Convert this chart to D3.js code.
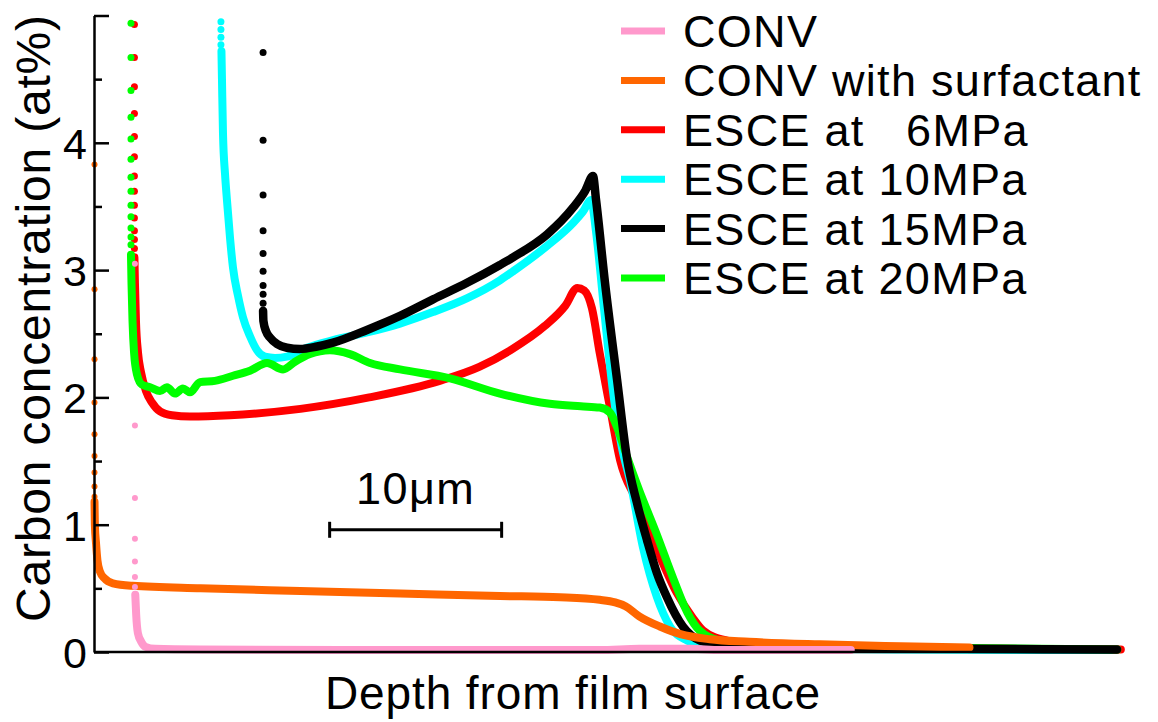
<!DOCTYPE html>
<html>
<head>
<meta charset="utf-8">
<script src="https://cdn.jsdelivr.net/npm/d3@7"></script>
<style>
  html, body { margin: 0; padding: 0; background: #fff; }
  svg { display: block; font-family: "Liberation Sans", Arial, sans-serif; }
  text { white-space: pre; }
</style>
</head>
<body>
<svg id="chart" width="1158" height="722"></svg>
<script>
// Carbon depth profiles: depth in micrometres, concentration in at%.
const seriesNames = ["CONV", "CONV with surfactant", "ESCE at   6MPa", "ESCE at 10MPa", "ESCE at 15MPa", "ESCE at 20MPa"];
const seriesColors = ["#ff99cc", "#ff6600", "#ff0000", "#00ffff", "#000000", "#00ff00"];

// Continuous part of each profile: [depth, concentration]
const convLine = [
  [2.40, 0.45], [2.45, 0.30], [2.55, 0.15], [2.75, 0.08], [3.0, 0.04], [3.55, 0.025],
  [6.2, 0.02], [17.8, 0.015], [29.4, 0.015], [31.7, 0.025], [34.7, 0.025], [36.4, 0.015], [44.0, 0.015]
];
const surfLine = [
  [0.03, 1.18], [0.05, 1.0], [0.12, 0.85], [0.2, 0.72], [0.35, 0.63], [0.6, 0.58], [1.1, 0.54],
  [2.25, 0.52], [6.2, 0.50], [12.0, 0.48], [17.8, 0.46], [23.6, 0.44], [27.1, 0.43], [29.4, 0.41],
  [30.3, 0.39], [30.9, 0.36], [31.7, 0.28], [32.9, 0.20], [34.1, 0.14], [35.8, 0.10], [38.1, 0.08],
  [42.2, 0.06], [46.9, 0.045], [50.9, 0.035]
];
const esce6Line = [
  [2.35, 3.1], [2.38, 2.9], [2.44, 2.6], [2.56, 2.35], [2.73, 2.2], [3.02, 2.05], [3.37, 1.96],
  [3.84, 1.89], [4.53, 1.86], [5.58, 1.85], [7.9, 1.86], [12.0, 1.91], [16.0, 2.0], [20.1, 2.13],
  [22.4, 2.24], [24.2, 2.37], [26.2, 2.56], [27.4, 2.72], [28.1, 2.86], [28.5, 2.84], [28.95, 2.7],
  [29.4, 2.35], [30.0, 1.92], [30.6, 1.50], [31.5, 1.2], [32.5, 0.88], [33.9, 0.46], [34.8, 0.27],
  [35.4, 0.17], [36.8, 0.09], [38.7, 0.06], [44.0, 0.04], [52.7, 0.025], [59.7, 0.02]
];
const esce10Line = [
  [7.41, 4.72], [7.44, 4.5], [7.5, 4.07], [7.62, 3.75], [7.73, 3.55], [7.91, 3.25], [8.08, 3.02],
  [8.37, 2.8], [8.66, 2.63], [9.07, 2.48], [9.48, 2.37], [9.94, 2.32], [10.52, 2.31], [11.22, 2.32],
  [12.38, 2.39], [13.9, 2.45], [15.87, 2.51], [17.79, 2.58], [19.7, 2.67], [21.7, 2.78], [23.6, 2.92],
  [24.36, 2.99], [26.34, 3.19], [27.85, 3.37], [28.43, 3.46], [28.9, 3.55], [29.19, 3.3], [29.65, 2.7],
  [30.17, 2.05], [30.7, 1.6], [31.16, 1.35], [31.92, 0.82], [32.73, 0.43], [33.49, 0.2], [34.48, 0.09],
  [35.4, 0.05], [38.1, 0.03], [46.9, 0.02], [59.1, 0.015]
];
const esce15Line = [
  [9.83, 2.68], [9.85, 2.6], [10.0, 2.52], [10.23, 2.47], [10.64, 2.42], [11.22, 2.39], [11.98, 2.38],
  [12.97, 2.40], [13.9, 2.43], [15.87, 2.53], [17.79, 2.64], [19.71, 2.77], [21.69, 2.9], [23.6, 3.04],
  [24.36, 3.10], [26.34, 3.28], [27.85, 3.49], [28.55, 3.62], [29.01, 3.74], [29.19, 3.55], [29.71, 2.9],
  [30.41, 2.14], [30.99, 1.52], [31.57, 1.17], [32.15, 0.88], [32.73, 0.62], [33.31, 0.43], [34.24, 0.2],
  [35.23, 0.09], [36.8, 0.05], [43.95, 0.03], [59.48, 0.02]
];
const esce20Line = [
  [2.15, 3.12], [2.18, 2.9], [2.24, 2.6], [2.33, 2.35], [2.5, 2.18], [2.79, 2.1], [3.26, 2.08],
  [3.84, 2.05], [4.24, 2.08], [4.71, 2.03], [5.17, 2.07], [5.58, 2.04], [6.16, 2.12], [7.03, 2.13],
  [8.08, 2.17], [9.07, 2.21], [10.06, 2.27], [10.99, 2.22], [11.69, 2.28], [12.56, 2.34], [13.72, 2.37],
  [14.88, 2.34], [16.05, 2.27], [17.79, 2.22], [20.7, 2.15], [23.6, 2.03], [26.5, 1.95], [28.3, 1.93],
  [29.4, 1.92], [30.0, 1.88], [30.4, 1.77], [31.0, 1.53], [31.7, 1.27], [32.7, 0.93], [33.7, 0.57],
  [34.5, 0.31], [35.2, 0.17], [36.4, 0.09], [38.7, 0.06], [46.9, 0.035], [59.5, 0.02]
];

// Sparse first readings near the surface: [depth, concentration]
const convDots = [[2.38, 3.05], [2.38, 1.78], [2.38, 1.21], [2.38, 0.89], [2.38, 0.71], [2.38, 0.59], [2.38, 0.51]];
const surfDots = [[0.03, 3.83], [0.03, 2.85], [0.03, 2.30], [0.03, 1.96], [0.03, 1.71], [0.03, 1.54], [0.03, 1.41], [0.03, 1.30], [0.03, 1.22]];
const esce6Dots = [[2.35, 4.93], [2.35, 4.67], [2.35, 4.44], [2.35, 4.23], [2.35, 4.05], [2.35, 3.89], [2.35, 3.74], [2.35, 3.62], [2.35, 3.51], [2.35, 3.41], [2.35, 3.31], [2.35, 3.24], [2.35, 3.17]];
const esce10Dots = [[7.38, 4.95], [7.38, 4.89], [7.38, 4.83], [7.38, 4.77]];
const esce15Dots = [[9.83, 4.71], [9.83, 4.02], [9.83, 3.59], [9.83, 3.31], [9.83, 3.13], [9.83, 2.99], [9.83, 2.88], [9.83, 2.81], [9.83, 2.74]];
const esce20Dots = [[2.15, 4.94], [2.15, 4.67], [2.15, 4.41], [2.15, 4.20], [2.15, 4.03], [2.15, 3.87], [2.15, 3.73], [2.15, 3.62], [2.15, 3.51], [2.15, 3.42], [2.15, 3.33], [2.15, 3.26], [2.15, 3.20]];

const yMajorTicks = [0, 1, 2, 3, 4, 5];
const yTickLabels = ["0", "1", "2", "3", "4", ""];
const yMinorTicks = [0.5, 1.5, 2.5, 3.5, 4.5];

// Scale bar: 10 µm starting at this depth, drawn at this concentration level
const scaleBarStart = 13.7;
const scaleBarLength = 10;
const scaleBarLevel = 0.96;
const scaleBarLabel = "10\u03bcm";

const xLabel = "Depth from film surface";
const yLabel = "Carbon concentration (at%)";

const lines = [convLine, surfLine, esce6Line, esce10Line, esce15Line, esce20Line];
const dots = [convDots, surfDots, esce6Dots, esce10Dots, esce15Dots, esce20Dots];

const svg = d3.select("#chart");
const x = d3.scaleLinear().domain([0, 60]).range([94, 1126]);
const y = d3.scaleLinear().domain([0, 5]).range([652, 15.5]);

const line = d3.line().x(d => x(d[0])).y(d => y(d[1])).curve(d3.curveMonotoneX);

// Layering: red, cyan, green, black, then orange and pink on top
const drawOrder = [2, 3, 5, 4, 1, 0];
const dataLayer = svg.append("g");
drawOrder.forEach(i => {
  const g = dataLayer.append("g");
  g.append("path")
    .datum(lines[i])
    .attr("d", line)
    .attr("fill", "none")
    .attr("stroke", seriesColors[i])
    .attr("stroke-width", i === 4 ? 8.5 : 8)
    .attr("stroke-linejoin", "round")
    .attr("stroke-linecap", "round");
  g.selectAll("circle")
    .data(dots[i])
    .join("circle")
    .attr("cx", d => x(d[0]))
    .attr("cy", d => y(d[1]))
    .attr("r", i <= 1 ? 3 : 3.5)
    .attr("fill", seriesColors[i]);
});

// Axes
const axisColor = "#000";
const yMajor = d3.axisLeft(y)
  .tickValues(yMajorTicks)
  .tickFormat((d, i) => yTickLabels[i])
  .tickSizeInner(-15)
  .tickSizeOuter(0)
  .tickPadding(7);
const yMinor = d3.axisLeft(y)
  .tickValues(yMinorTicks)
  .tickFormat("")
  .tickSizeInner(-8)
  .tickSizeOuter(0);

const gx = svg.append("g")
  .attr("transform", `translate(0,${y(0)})`)
  .call(d3.axisBottom(x).tickValues([]).tickSizeOuter(0));
gx.select(".domain").attr("stroke", axisColor).attr("stroke-width", 2.5)
  .attr("d", `M${x(0)},0H${x(59.5)}`);

const gyMinor = svg.append("g").attr("transform", `translate(${x(0)},0)`).call(yMinor);
gyMinor.select(".domain").remove();
gyMinor.selectAll("line").attr("stroke", axisColor).attr("stroke-width", 2.5);

const gy = svg.append("g").attr("transform", `translate(${x(0)},0)`).call(yMajor);
gy.select(".domain").attr("stroke", axisColor).attr("stroke-width", 2.5);
gy.selectAll("line").attr("stroke", axisColor).attr("stroke-width", 2.5);
gy.selectAll("text")
  .attr("font-size", 43)
  .attr("font-family", "Liberation Sans, Arial, sans-serif")
  .attr("fill", "#000")
  .attr("dy", "0.36em");

// Axis titles
svg.append("text")
  .attr("x", 573)
  .attr("y", 709)
  .attr("text-anchor", "middle")
  .attr("font-size", 46)
  .attr("letter-spacing", 0.9)
  .text(xLabel);

svg.append("text")
  .attr("transform", "translate(50,318) rotate(-90)")
  .attr("text-anchor", "middle")
  .attr("font-size", 48)
  .attr("letter-spacing", 0.8)
  .text(yLabel);

// Scale bar
const sb = svg.append("g");
const sbY = y(scaleBarLevel);
const sbX0 = x(scaleBarStart), sbX1 = x(scaleBarStart + scaleBarLength);
sb.append("line").attr("x1", sbX0).attr("x2", sbX1).attr("y1", sbY).attr("y2", sbY)
  .attr("stroke", "#000").attr("stroke-width", 3);
[sbX0, sbX1].forEach(px => {
  sb.append("line").attr("x1", px).attr("x2", px).attr("y1", sbY - 8).attr("y2", sbY + 8)
    .attr("stroke", "#000").attr("stroke-width", 3);
});
sb.append("text")
  .attr("x", (sbX0 + sbX1) / 2)
  .attr("y", sbY - 26)
  .attr("text-anchor", "middle")
  .attr("font-size", 45)
  .attr("letter-spacing", 1.5)
  .text(scaleBarLabel);

// Legend
const legend = svg.append("g").attr("transform", "translate(621,31)");
seriesNames.forEach((name, i) => {
  const row = legend.append("g").attr("transform", `translate(0,${i * 49.4})`);
  row.append("line").attr("x1", 0).attr("x2", 44).attr("y1", 0).attr("y2", 0)
    .attr("stroke", seriesColors[i]).attr("stroke-width", 7);
  row.append("text").attr("x", 62).attr("y", 16).attr("font-size", 45)
    .attr("letter-spacing", 1.3).text(name);
});
</script>
</body>
</html>
